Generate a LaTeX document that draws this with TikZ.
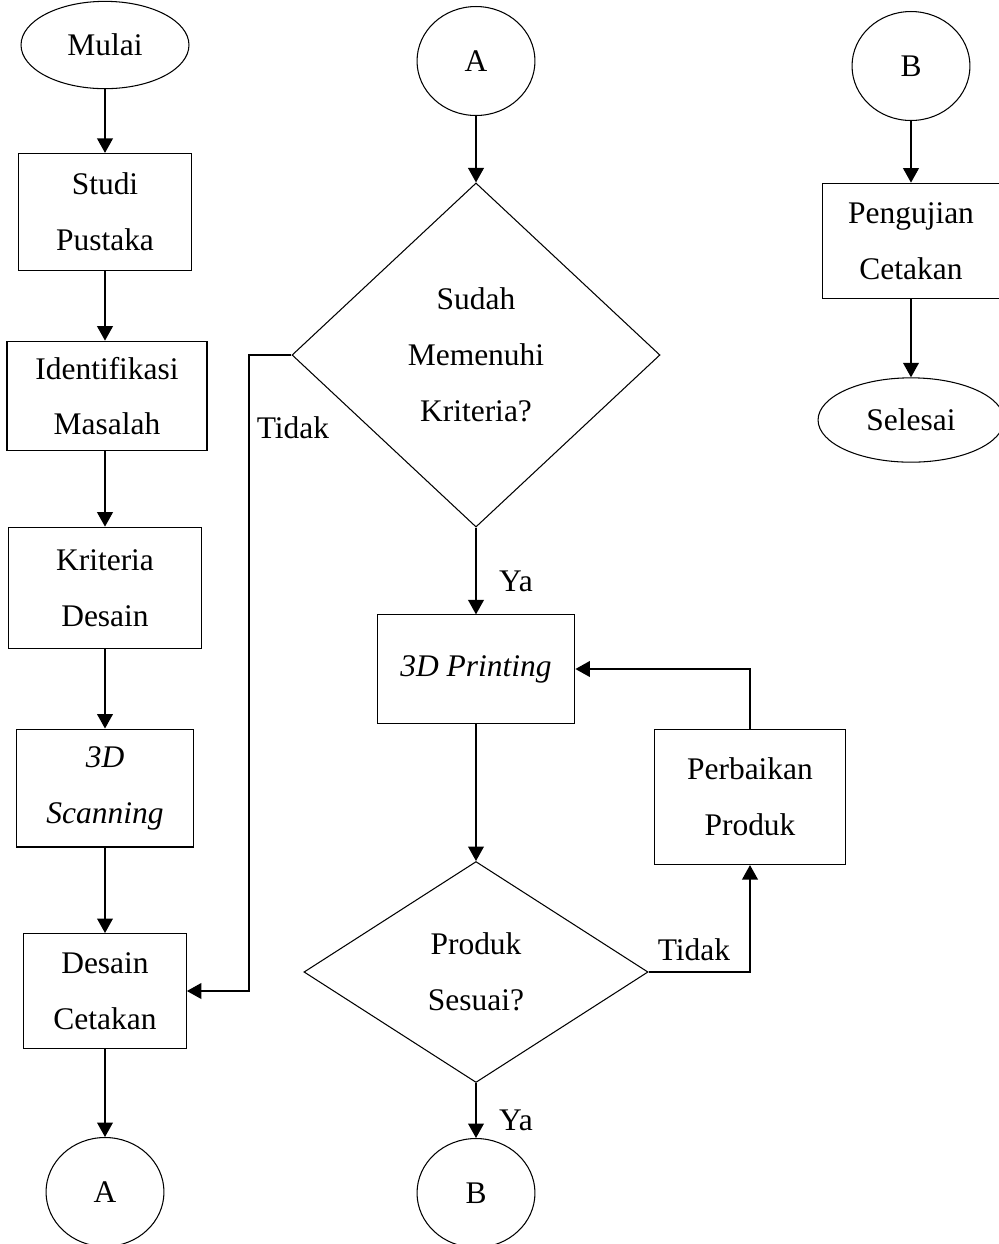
\documentclass[tikz,border=0pt]{standalone}
\usepackage{fontspec}
\setmainfont{Liberation Serif}
\usetikzlibrary{arrows.meta, shapes.geometric, positioning}

\begin{document}
\begin{tikzpicture}[
	x=0.0134cm, y=-0.0134cm,
	every node/.style={align=center, font=\fontsize{12}{21.3}\selectfont},
	terminal/.style={ellipse, draw, inner sep=0pt},
	prosesbox/.style={rectangle, draw, inner sep=0pt},
	keputusan/.style={diamond, draw, inner sep=0pt},
	penghubung/.style={ellipse, draw, inner sep=0pt, minimum width=1.58cm, minimum height=1.46cm},
	arrow/.style={-{Triangle[width=6pt, length=5.5pt]}, line width=.5pt}
	]
	\useasboundingbox (0,0) rectangle (998,1244);
	% kolom kiri
	\node[terminal, minimum width=2.25cm, minimum height=1.17cm] (mulai) at (105,45) {Mulai};
	\node[prosesbox, minimum width=2.32cm, minimum height=1.57cm] (studi) at (105,212) {Studi\\Pustaka};
	\node[prosesbox, minimum width=2.68cm, minimum height=1.47cm] (identifikasi) at (107,396) {Identifikasi\\Masalah};
	\node[prosesbox, minimum width=2.59cm, minimum height=1.63cm] (kriteria) at (105,588) {Kriteria\\Desain};
	\node[prosesbox, minimum width=2.36cm, minimum height=1.58cm] (scanning) at (105,788) {\textit{3D}\\\textit{Scanning}};
	\node[prosesbox, minimum width=2.18cm, minimum height=1.54cm] (desain) at (105,991) {Desain\\Cetakan};
	\node[penghubung] (bawahA) at (105,1192) {A};
	% kolom tengah
	\node[penghubung] (atasA) at (476,61) {A};
	\node[keputusan, minimum width=4.93cm, minimum height=4.61cm] (sudah) at (476,355) {Sudah\\Memenuhi\\Kriteria?};
	\node[prosesbox, minimum width=2.65cm, minimum height=1.45cm] (printing) at (476,669) {\textit{3D Printing}};
	\node[keputusan, minimum width=4.61cm, minimum height=2.96cm] (sesuai) at (476,972) {Produk\\Sesuai?};
	\node[penghubung] (bawahB) at (476,1193) {B};
	\node[prosesbox, minimum width=2.55cm, minimum height=1.81cm] (perbaikan) at (750,797) {Perbaikan\\Produk};
	\coordinate (belokTidak) at (249,355);
	\node (tidakSudah) at (293,428) {Tidak};
	\node (yaSudah) at (516,581) {Ya};
	\node (tidakSesuai) at (694,950) {Tidak};
	\node (yaSesuai) at (516,1120) {Ya};
	% kolom kanan
	\node[penghubung] (atasB) at (911,66) {B};
	\node[prosesbox, minimum width=2.36cm, minimum height=1.55cm] (pengujian) at (911,241) {Pengujian\\Cetakan};
	\node[terminal, minimum width=2.49cm, minimum height=1.13cm] (selesai) at (911,420) {Selesai};
	% panah
	\draw[arrow] (mulai) -- (studi);
	\draw[arrow] (studi.south) -- (studi.south |- identifikasi.north);
	\draw[arrow] (identifikasi.south -| kriteria) -- (kriteria.north);
	\draw[arrow] (kriteria) -- (scanning);
	\draw[arrow] (scanning) -- (desain);
	\draw[arrow] (desain) -- (bawahA);
	\draw[arrow] (atasA) -- (sudah);
	\draw[arrow] (sudah) -- (printing);
	\draw[arrow] (sudah.west) -- (belokTidak) |- (desain.east);
	\draw[arrow] (printing) -- (sesuai);
	\draw[arrow] (sesuai) -- (bawahB);
	\draw[arrow] (sesuai.east) -| (perbaikan.south);
	\draw[arrow] (perbaikan.north) |- (printing.east);
	\draw[arrow] (atasB) -- (pengujian);
	\draw[arrow] (pengujian) -- (selesai);
\end{tikzpicture}
\end{document}
